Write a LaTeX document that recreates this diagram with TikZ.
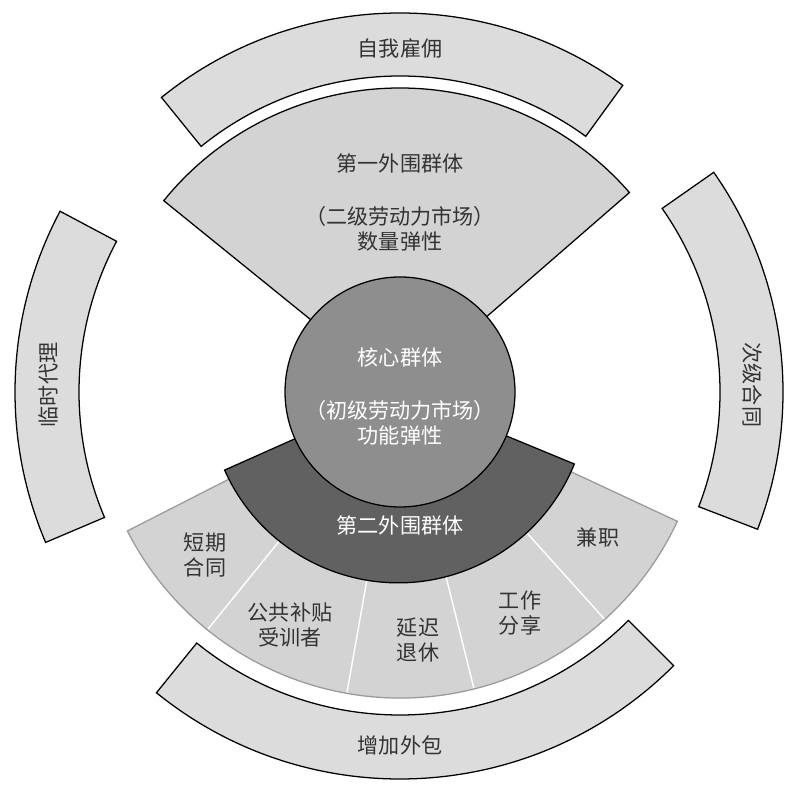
\documentclass[tikz,border=0pt]{standalone}
\usepackage{fontspec}
\newfontfamily\cjk{Noto Sans CJK SC}
\usetikzlibrary{positioning}

\definecolor{bandgray}{HTML}{DCDCDC}
\definecolor{sectgray}{HTML}{D3D3D3}
\definecolor{coregray}{HTML}{8E8E8E}
\definecolor{darkgray}{HTML}{616161}
\definecolor{edgegray}{HTML}{9A9A9A}

% annular sector: start angle, end angle, inner radius, outer radius
\newcommand{\ringpart}[4]{(#1:#4) arc[start angle=#1, end angle=#2, radius=#4] -- (#2:#3) arc[start angle=#2, end angle=#1, radius=#3] -- cycle}

\begin{document}
\begin{tikzpicture}[x=0.025cm,y=0.025cm,
    band/.style={draw=black, line width=0.9pt, fill=bandgray},
    label/.style={font=\cjk\fontsize{15}{18}\selectfont, text=black!80, align=center, inner sep=1pt},
    whitelabel/.style={label, text=white}]

\useasboundingbox (0,0) rectangle (800,795);

\begin{scope}[shift={(400,403)}]
% outer bands
	\path[band] \ringpart{54}{129}{316}{379};
	\path[band] \ringpart{152}{203}{321}{385};
	\path[band] \ringpart{-21}{35}{320}{383};
	\path[band] \ringpart{231}{315}{323}{387};

% first periphery
	\draw[line width=0.9pt, fill=sectgray] (0,0) -- (141:304) arc[start angle=141, end angle=41, radius=304] -- cycle;

% second periphery, light ring and dividers
	\draw[edgegray, line width=0.9pt, fill=sectgray] (0,0) -- (207:306) arc[start angle=207, end angle=335, radius=306] -- cycle;
	\foreach \ang in {231,260,284,312}
		\draw[white, line width=1pt] (\ang:188) -- (\ang:305);
	\draw[line width=0.9pt, fill=darkgray] (0,0) -- (204:192) arc[start angle=204, end angle=338, radius=190] -- cycle;

% core
	\draw[line width=0.9pt, fill=coregray] (0,0) circle[radius=115];
\end{scope}

% Labels
	\node (self)      [label]      at (400,747) {自我雇佣};
	\node (first)     [label]      at (400,632) {第一外围群体};
	\node (firstsub)  [label, below=30 of first] {（二级劳动力市场）\\数量弹性};
	\node (core)      [whitelabel] at (400,438) {核心群体};
	\node (coresub)   [whitelabel, below=30 of core] {（初级劳动力市场）\\功能弹性};
	\node (second)    [whitelabel] at (400,270) {第二外围群体};
	\node (shortterm) [label]      at (205,240) {短期\\合同};
	\node (trainee)   [label]      at (290,170) {公共补贴\\受训者};
	\node (retire)    [label]      at (418,155) {延迟\\退休};
	\node (share)     [label]      at (520,182) {工作\\分享};
	\node (parttime)  [label]      at (598,258) {兼职};
	\node (outsrc)    [label]      at (400,50)  {增加外包};
	\node (agency)    [label, rotate=90]  at (48,410)  {临时代理};
	\node (subcon)    [label, rotate=-90] at (752,410) {次级合同};

\end{tikzpicture}
\end{document}
